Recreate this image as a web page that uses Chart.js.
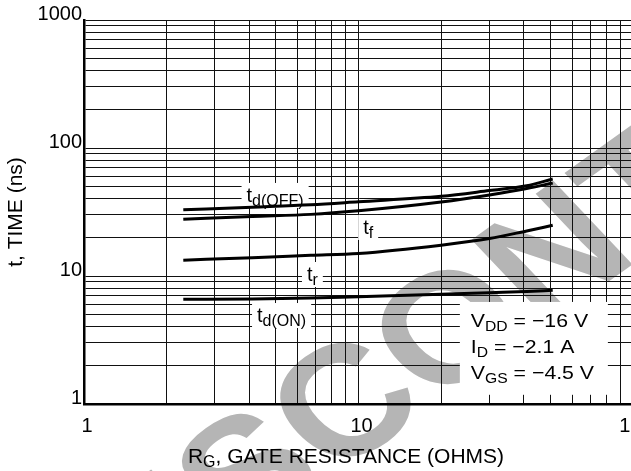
<!DOCTYPE html>
<html>
<head>
<meta charset="utf-8">
<script src="https://cdn.jsdelivr.net/npm/chart.js@4.4.0/dist/chart.umd.min.js"></script>
<style>
html, body { margin: 0; padding: 0; overflow: hidden; background: #fff; }
canvas { display: block; }
</style>
</head>
<body>
<canvas id="c" width="680" height="471"></canvas>
<script>
// gate resistance (ohms) and switching times (ns)
const rg = [2.3, 4.1, 6.7, 10, 20, 30, 41, 51]
const tdOff = [32.9, 34.5, 36.0, 38.0, 41.9, 46.5, 50.7, 57.3]
const tf = [27.8, 29.2, 30.3, 32.3, 37.8, 42.9, 48.2, 53.3]
const tr = [13.3, 13.9, 14.5, 15.0, 17.4, 19.6, 22.5, 24.9]
const tdOn = [6.57, 6.62, 6.73, 6.90, 7.19, 7.41, 7.58, 7.73]

const xGrid = [1,2,3,4,5,6,7,8,9,10,20,30,40,50,60,70,80,90,100]
const yGrid = [1,2,3,4,5,6,7,8,9,10,20,30,40,50,60,70,80,90,100,200,300,400,500,600,700,800,900,1000]
const xLabels = [1, 10, 100]
const yLabels = [1, 10, 100, 1000]
const conditions = [['V', 'DD', ' = \u221216 V'], ['I', 'D', ' = \u22122.1 A'], ['V', 'GS', ' = \u22124.5 V']]

const FONT = '"Liberation Sans", Arial, Helvetica, sans-serif'

function pts(ys) {
    let out = []
    for (let i = 0; i < rg.length; i++) out.push({x: rg[i], y: ys[i]})
    return out
}
function line(ys) {
    return {
        data: pts(ys),
        borderColor: '#000',
        borderWidth: 3,
        pointRadius: 0,
        fill: false,
        tension: 0.4,
        cubicInterpolationMode: 'monotone'
    }
}

// text with a subscript, returns end x
function subText(c, x, y, main, sub, rest, size, subSize) {
    c.font = size + 'px ' + FONT
    c.fillText(main, x, y)
    x += c.measureText(main).width
    c.font = subSize + 'px ' + FONT
    c.fillText(sub, x, y + 4)
    x += c.measureText(sub).width
    if (rest) {
        c.font = size + 'px ' + FONT
        c.fillText(rest, x, y)
        x += c.measureText(rest).width
    }
    return x
}

const background = {
    id: 'background',
    beforeDraw(chart) {
        const c = chart.ctx
        c.save()
        c.fillStyle = '#fff'
        c.fillRect(0, 0, chart.width, chart.height)
        // DISCONTINUED watermark (the scan is a bit wide, so stretch it)
        c.scale(1.15, 1)
        c.translate(87, 646)
        c.rotate(-39.5 * Math.PI / 180)
        c.fillStyle = '#b5b5b5'
        c.font = 'bold 157px ' + FONT
        c.textBaseline = 'alphabetic'
        c.fillText('DISCONTINUED', 0, 0)
        c.restore()
    }
}

const notes = {
    id: 'notes',
    beforeDatasetsDraw(chart) {
        const c = chart.ctx
        const xs = chart.scales.x, ys = chart.scales.y
        c.save()
        c.textBaseline = 'alphabetic'
        // curve labels on white boxes: [main, sub, R, t]
        const lbls = [['t', 'd(OFF)', 3.91, 37.9], ['t', 'f', 10.4, 21.3], ['t', 'r', 6.49, 9.14], ['t', 'd(ON)', 4.27, 4.37]]
        for (const l of lbls) {
            const x = xs.getPixelForValue(l[2]), y = ys.getPixelForValue(l[3])
            c.font = '20px ' + FONT
            let w = c.measureText(l[0]).width
            c.font = '16px ' + FONT
            w += c.measureText(l[1]).width
            c.fillStyle = '#fff'
            c.fillRect(x - 5, y - 19, w + 10, 25)
            c.fillStyle = '#000'
            subText(c, x, y, l[0], l[1], '', 20, 16)
        }
        // test conditions box
        const bx = xs.getPixelForValue(23.4), bx2 = xs.getPixelForValue(81)
        const by = ys.getPixelForValue(6.27), by2 = ys.getPixelForValue(1.18)
        c.fillStyle = '#fff'
        c.fillRect(bx, by, bx2 - bx, by2 - by)
        c.fillStyle = '#000'
        for (let i = 0; i < conditions.length; i++) {
            c.save()
            c.translate(bx + 11, by + 25 + i * 25.8)
            c.scale(1.12, 1)
            subText(c, 0, 0, conditions[i][0], conditions[i][1], conditions[i][2], 19, 14)
            c.restore()
        }
        c.restore()
    },
    afterDraw(chart) {
        const c = chart.ctx
        c.save()
        c.fillStyle = '#000'
        c.textBaseline = 'alphabetic'
        c.font = '21px ' + FONT
        const a = 'R', b = 'G', r = ', GATE RESISTANCE (OHMS)'
        let w = c.measureText(a).width + c.measureText(r).width
        c.font = '16px ' + FONT
        w += c.measureText(b).width
        subText(c, 346 - w / 2, 463, a, b, r, 21, 16)
        c.restore()
    }
}

new Chart(document.getElementById('c'), {
    type: 'line',
    data: {
        datasets: [line(tdOff), line(tf), line(tr), line(tdOn)]
    },
    options: {
        responsive: false,
        animation: false,
        devicePixelRatio: 1,
        layout: { padding: { top: 20, right: 47, left: 0, bottom: 0 } },
        plugins: { legend: { display: false }, tooltip: { enabled: false } },
        scales: {
            x: {
                type: 'logarithmic',
                min: 1,
                max: 100,
                afterBuildTicks: s => { s.ticks = xGrid.map(v => ({value: v})) },
                afterFit: s => { s.height = 67 },
                grid: { color: '#111', lineWidth: 1, drawTicks: false },
                border: { color: '#000', width: 2.5 },
                ticks: {
                    autoSkip: false, maxRotation: 0, padding: 10, labelOffset: 3,
                    color: '#000', font: { family: FONT, size: 20 },
                    callback: v => xLabels.includes(v) ? String(v) : ''
                }
            },
            y: {
                type: 'logarithmic',
                min: 1,
                max: 1000,
                afterBuildTicks: s => { s.ticks = yGrid.map(v => ({value: v})) },
                afterFit: s => { s.width = 84 },
                grid: { color: '#111', lineWidth: 1, drawTicks: false },
                border: { color: '#000', width: 2.5 },
                ticks: {
                    autoSkip: false, padding: 2, labelOffset: -6,
                    color: '#000', font: { family: FONT, size: 20 },
                    callback: v => yLabels.includes(v) ? String(v) : ''
                },
                title: {
                    display: true, text: 't, TIME (ns)', color: '#000',
                    font: { family: FONT, size: 21 }, padding: { top: 4, bottom: 0 }
                }
            }
        }
    },
    plugins: [background, notes]
})
</script>
</body>
</html>
